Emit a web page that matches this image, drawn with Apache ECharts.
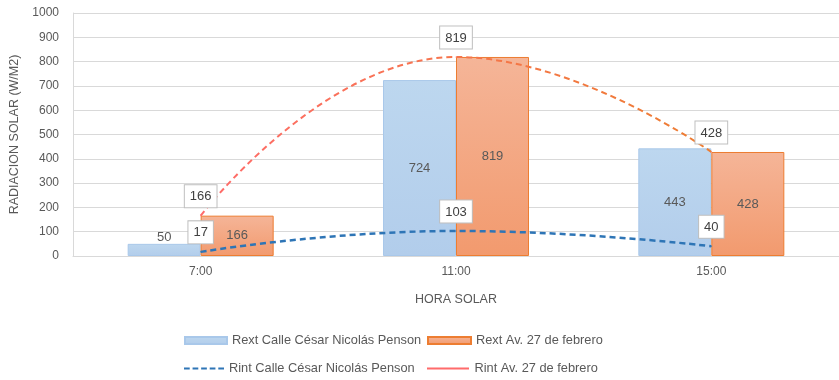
<!DOCTYPE html>
<html>
<head>
<meta charset="utf-8">
<script src="https://cdn.jsdelivr.net/npm/echarts@6/dist/echarts.min.js"></script>
<style>
  html, body { margin: 0; padding: 0; background: #fff; }
  #chart { width: 839px; height: 380px; }
</style>
</head>
<body>
<div id="chart"></div>
<script>
// Solar radiation readings by solar hour
const horas = ['7:00', '11:00', '15:00'];
const rextCalle = [50, 724, 443];
const rextAv = [166, 819, 428];
const rintCalle = [17, 103, 40];
const rintAv = [166, 819, 428];
const yTicks = { min: 0, max: 1000, interval: 100 };

const nombres = [
  'Rext Calle César Nicolás Penson',
  'Rext Av. 27 de febrero',
  'Rint Calle César Nicolás Penson',
  'Rint Av. 27 de febrero'
];

const FONT = 'Liberation Sans';
const GREY = '#595959';

// callout box used for the line values
const boxLabel = {
  show: true,
  position: 'top',
  distance: 8,
  color: '#404040',
  fontSize: 13,
  fontFamily: FONT,
  backgroundColor: '#fff',
  borderColor: '#bfbfbf',
  borderWidth: 1,
  padding: [5, 5, 4, 5]
};

const legendText = { color: GREY, fontSize: 12.8, fontFamily: FONT };
// legend glyphs for the two line series
const dashIcon = 'path://M0,0h6v2h-6z M9,0h6v2h-6z M18,0h6v2h-6z M27,0h6v2h-6z M36,0h6v2h-6z';
const solidIcon = 'path://M0,0h42v2h-42z';

const chart = echarts.init(document.getElementById('chart'), null, { renderer: 'canvas' });
chart.setOption({
  animation: false,
  grid: { left: 71, top: 13, right: -4, height: 243, containLabel: false },
  legend: [
    { data: [nombres[0]], left: 184, top: 334, padding: 0, itemWidth: 42, itemHeight: 7, textStyle: legendText, icon: 'rect' },
    { data: [nombres[1]], left: 427, top: 334, padding: 0, itemWidth: 43, itemHeight: 7, textStyle: legendText, icon: 'rect' },
    { data: [nombres[2]], left: 184, top: 362, padding: 0, itemWidth: 40, itemHeight: 2.5, textStyle: legendText, icon: dashIcon },
    { data: [nombres[3]], left: 427, top: 362, padding: 0, itemWidth: 43, itemHeight: 2, textStyle: legendText, icon: solidIcon }
  ],
  xAxis: {
    type: 'category',
    data: horas,
    name: 'HORA SOLAR',
    nameLocation: 'middle',
    nameGap: 37,
    nameTextStyle: { color: GREY, fontSize: 12.5, fontFamily: FONT },
    axisLine: { lineStyle: { color: '#d9d9d9' } },
    axisTick: { show: false },
    axisLabel: { color: GREY, fontSize: 12, fontFamily: FONT, margin: 10 }
  },
  yAxis: {
    type: 'value',
    min: yTicks.min,
    max: yTicks.max,
    interval: yTicks.interval,
    name: 'RADIACION SOLAR (W/M2)',
    nameLocation: 'middle',
    nameGap: 52,
    nameTextStyle: { color: GREY, fontSize: 12.5, fontFamily: FONT },
    axisLine: { show: true, lineStyle: { color: '#d9d9d9' } },
    axisTick: { show: false },
    splitLine: { lineStyle: { color: '#d9d9d9', width: 1 } },
    axisLabel: { color: GREY, fontSize: 12, fontFamily: FONT, margin: 14, formatter: v => String(v) }
  },
  series: [
    {
      name: nombres[0],
      type: 'bar',
      barWidth: 73,
      barGap: '0%',
      data: rextCalle.map((v, i) => ({
        value: v,
        label: i === 0 ? { position: 'top', distance: 0 } : {}
      })),
      itemStyle: {
        color: new echarts.graphic.LinearGradient(0, 0, 0, 1, [
          { offset: 0, color: '#bdd7ef' },
          { offset: 1, color: '#b2cdeb' }
        ]),
        borderColor: '#a9c8ea',
        borderWidth: 1
      },
      label: { show: true, position: 'inside', color: GREY, fontSize: 13, fontFamily: FONT }
    },
    {
      name: nombres[1],
      type: 'bar',
      barWidth: 73,
      barGap: '0%',
      data: rextAv,
      itemStyle: {
        color: new echarts.graphic.LinearGradient(0, 0, 0, 1, [
          { offset: 0, color: '#f5b598' },
          { offset: 1, color: '#f29a6e' }
        ]),
        borderColor: '#ed7d31',
        borderWidth: 1
      },
      label: { show: true, position: 'inside', color: GREY, fontSize: 13, fontFamily: FONT }
    },
    {
      name: nombres[2],
      type: 'line',
      data: rintCalle,
      smooth: 0.5,
      symbol: 'circle',
      symbolSize: 1,
      z: 5,
      lineStyle: { color: '#2e75b6', width: 2.5, type: [6, 4] },
      itemStyle: { color: '#2e75b6' },
      label: boxLabel
    },
    {
      name: nombres[3],
      type: 'line',
      data: rintAv,
      smooth: 0.5,
      symbol: 'circle',
      symbolSize: 1,
      z: 5,
      lineStyle: {
        width: 2,
        type: [6, 4],
        color: new echarts.graphic.LinearGradient(0, 0, 1, 0, [
          { offset: 0, color: '#ff6b6b' },
          { offset: 0.45, color: '#f7744f' },
          { offset: 1, color: '#ed7d31' }
        ])
      },
      itemStyle: { color: '#ff6b6b' },
      label: boxLabel
    }
  ]
});
</script>
</body>
</html>
